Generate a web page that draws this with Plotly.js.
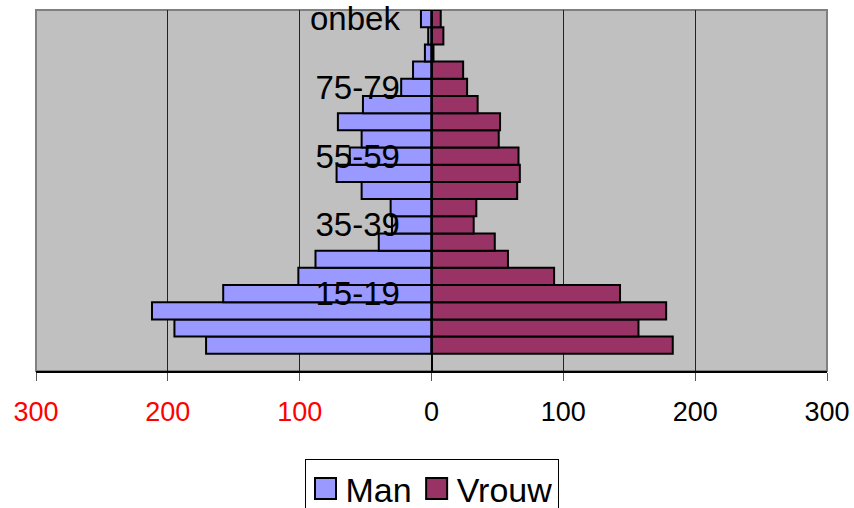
<!DOCTYPE html>
<html>
<head>
<meta charset="utf-8">
<script src="https://cdn.plot.ly/plotly-3.0.1.min.js"></script>
<style>
  html, body { margin: 0; padding: 0; background: #fff; }
  #chart { width: 854px; height: 508px; }
</style>
</head>
<body>
<div id="chart"></div>
<script>
// Age groups, bottom to top
const ageGroups = ['0-4','5-9','10-14','15-19','20-24','25-29','30-34','35-39','40-44','45-49',
                   '50-54','55-59','60-64','65-69','70-74','75-79','80-84','85-89','90+','onbek'];
// Men (drawn to the left, negative)
const manValues = [-171,-195,-212,-158,-101,-88,-40,-30,-31,-53,
                   -72,-62,-53,-71,-52,-23,-14,-5,-2.5,-8];
// Women (drawn to the right)
const vrouwValues = [183,157,178,143,93,58,48,32,34,65,
                     67,66,51,52,35,27,24,1.5,9,7];
// Category labels shown on the axis
const shownAgeLabels = ['15-19','35-39','55-59','75-79','onbek'];
// X tick values and their labels
const xTickValues = [-300,-200,-100,0,100,200,300];
const xTickLabels = ['300','200','100','0','100','200','300'];
const xTickColors = ['#FF0000','#FF0000','#FF0000','#000000','#000000','#000000','#000000'];

const FONT = 'Arial, "Liberation Sans", sans-serif';

const traces = [
  {
    type: 'bar', orientation: 'h', name: 'Man',
    y: ageGroups, x: manValues,
    marker: { color: '#9999FF', line: { color: '#000000', width: 2 } }
  },
  {
    type: 'bar', orientation: 'h', name: 'Vrouw',
    y: ageGroups, x: vrouwValues,
    marker: { color: '#993366', line: { color: '#000000', width: 2 } }
  }
];

const layout = {
  width: 854, height: 508,
  margin: { l: 36, r: 27, t: 10, b: 137 },
  paper_bgcolor: '#FFFFFF',
  plot_bgcolor: '#C0C0C0',
  font: { family: FONT, color: '#000000' },
  barmode: 'relative',
  bargap: 0,
  showlegend: true,
  legend: {
    orientation: 'h', x: 0.5, xanchor: 'center',
    yref: 'container', y: 0.0965, yanchor: 'top',
    bgcolor: '#FFFFFF', bordercolor: '#000000', borderwidth: 1,
    font: { family: FONT, size: 34, color: '#000000' },
    traceorder: 'normal'
  },
  xaxis: {
    range: [-300, 300],
    tickmode: 'array',
    tickvals: xTickValues,
    ticktext: xTickLabels.map((t, i) => '<span style="color:' + xTickColors[i] + '">' + t + '</span>'),
    ticks: 'outside', ticklen: 8, tickwidth: 1, tickcolor: '#555555',
    ticklabelstandoff: 8,
    tickfont: { family: FONT, size: 27, color: '#000000' },
    showline: true, linecolor: '#000000', linewidth: 1.5,
    showgrid: true, gridcolor: '#222222', gridwidth: 1,
    zeroline: false, fixedrange: true, automargin: false
  },
  yaxis: {
    type: 'category',
    categoryorder: 'array', categoryarray: ageGroups,
    range: [-1.5, ageGroups.length - 0.5],
    anchor: 'free', position: 0.5,
    tickmode: 'array', tickvals: shownAgeLabels, ticktext: shownAgeLabels,
    ticks: '', ticklabelstandoff: 24,
    tickfont: { family: FONT, size: 33, color: '#000000' },
    showline: true, linecolor: '#000000', linewidth: 2,
    showgrid: false, zeroline: false, fixedrange: true, automargin: false
  },
  shapes: [
    { type: 'rect', xref: 'paper', yref: 'paper', x0: 0, x1: 1, y0: 0, y1: 1,
      line: { color: '#808080', width: 2 }, fillcolor: 'rgba(0,0,0,0)', layer: 'below' }
  ]
};

Plotly.newPlot('chart', traces, layout, { staticPlot: true, displayModeBar: false }).then(function (gd) {
  // enlarge legend swatches to match the reference
  gd.querySelectorAll('g.legendpoints path').forEach(function (p) {
    const tr = p.getAttribute('transform') || '';
    p.setAttribute('transform', tr + ' scale(1.75)');
    p.setAttribute('vector-effect', 'non-scaling-stroke');
  });
});
</script>
</body>
</html>
